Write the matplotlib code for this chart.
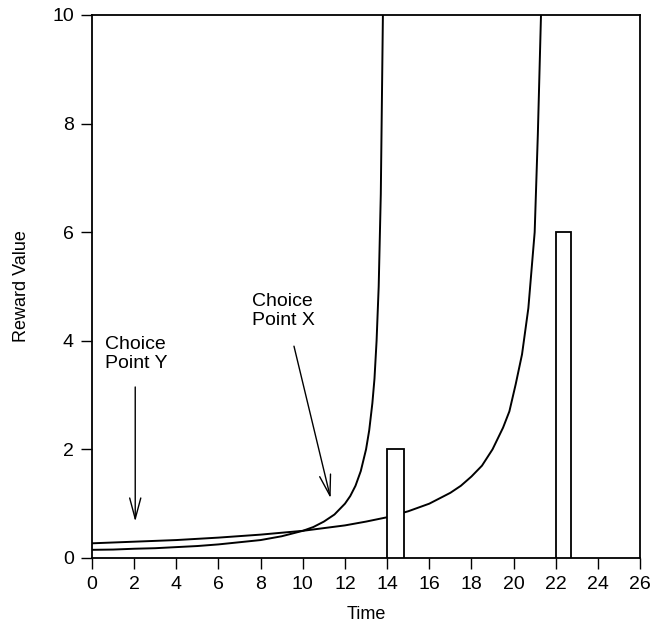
import matplotlib
matplotlib.use("Agg")
import matplotlib.pyplot as plt

# delay-discounted value of the small, early reward (2 units at t=14)
small_t = [0, 1, 2, 3, 4, 5, 6, 7, 8, 9, 10, 10.5, 11, 11.5, 12, 12.25, 12.5,
           12.75, 13.0, 13.15, 13.3, 13.4, 13.5, 13.6, 13.7, 13.8]
small_v = [0.15, 0.155, 0.17, 0.18, 0.2, 0.22, 0.25, 0.29, 0.33, 0.4, 0.5, 0.57,
           0.67, 0.8, 1.0, 1.14, 1.33, 1.6, 2.0, 2.35, 2.85, 3.3, 4.0, 5.0, 6.7, 10.0]

# delay-discounted value of the large, late reward (6 units at t=22)
large_t = [0, 2, 4, 6, 8, 10, 12, 13, 14, 15, 16, 17, 17.5, 18, 18.5, 19, 19.5,
           19.8, 20.1, 20.4, 20.7, 21.0, 21.15, 21.3]
large_v = [0.27, 0.3, 0.33, 0.375, 0.43, 0.5, 0.6, 0.67, 0.75, 0.86, 1.0, 1.2,
           1.33, 1.5, 1.7, 2.0, 2.4, 2.7, 3.2, 3.75, 4.6, 6.0, 7.8, 10.0]

# the rewards themselves
reward_t = [14, 22]
reward_v = [2, 6]
reward_w = [0.8, 0.7]

xticks = list(range(0, 27, 2))
yticks = list(range(0, 11, 2))

plt.rcParams["font.family"] = ["Liberation Sans", "DejaVu Sans"]


def main():
    fig = plt.figure(figsize=(6.54, 6.39), dpi=100)
    ax = fig.add_axes([0.1407, 0.1268, 0.838, 0.8498])

    ax.plot(small_t, small_v, color="black", lw=1.4, zorder=2)
    ax.plot(large_t, large_v, color="black", lw=1.4, zorder=2)
    ax.bar(reward_t, reward_v, width=reward_w, align="edge", color="white",
           edgecolor="black", lw=1.3, zorder=3)

    # choice point annotations
    arrow = dict(arrowstyle="->,head_length=1.5,head_width=0.4", color="black", lw=1.0)
    ax.annotate("", xy=(2.05, 0.62), xytext=(2.05, 3.2), arrowprops=arrow)
    ax.text(0.6, 3.75, "Choice\nPoint Y", fontsize=14, va="center", ha="left",
            multialignment="left", linespacing=1.15)
    ax.annotate("", xy=(11.35, 1.05), xytext=(9.55, 3.95), arrowprops=arrow)
    ax.text(7.6, 4.55, "Choice\nPoint X", fontsize=14, va="center", ha="left",
            multialignment="left", linespacing=1.15)

    ax.set_xlim(0, 26)
    ax.set_ylim(0, 10)
    ax.set_xticks(xticks)
    ax.set_yticks(yticks)
    ax.tick_params(direction="out", length=8, width=1.0, labelsize=14, pad=5)
    for s in ax.spines.values():
        s.set_linewidth(1.3)

    ax.set_xlabel("Time", fontsize=13, labelpad=9)
    ax.set_ylabel("Reward Value", fontsize=13, labelpad=16)

    fig.savefig("out.png", dpi=100)


if __name__ == "__main__":
    main()
